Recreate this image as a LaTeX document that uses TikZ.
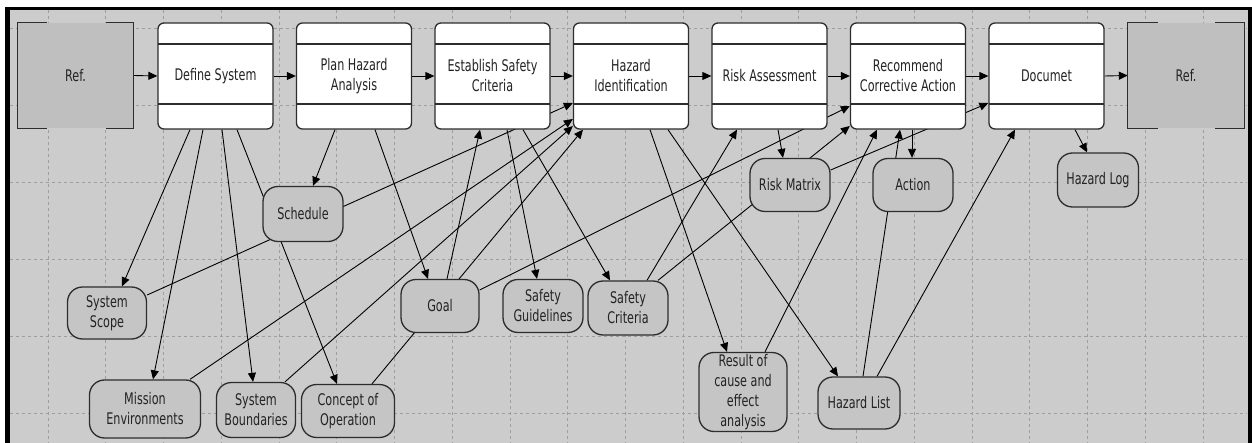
\documentclass[tikz,border=0pt]{standalone}
\usepackage{fontspec}
\newfontfamily\lblfont[FakeStretch=0.7]{DejaVu Sans}
\usetikzlibrary{arrows.meta}
\definecolor{bgc}{RGB}{204,204,204}
\definecolor{reff}{RGB}{191,191,191}
\definecolor{entf}{RGB}{197,197,197}
\definecolor{gridc}{RGB}{158,158,158}
\definecolor{linec}{RGB}{45,45,45}
\definecolor{txtc}{RGB}{35,35,35}
\pgfdeclarelayer{gridlayer}
\pgfdeclarelayer{edgelayer}
\pgfsetlayers{gridlayer,edgelayer,main}
\begin{document}
\begin{tikzpicture}[x=1pt,y=-1pt,
  every node/.style={font=\lblfont\fontsize{16}{20}\selectfont, text=txtc, align=center, inner sep=0pt},
  proc/.style={draw=linec, line width=1.3pt, fill=white, rounded corners=6pt,
    minimum width=115pt, minimum height=106pt,
    path picture={\draw[line width=1.3pt, linec]
      ([yshift=-21pt]path picture bounding box.north west) -- ([yshift=-21pt]path picture bounding box.north east)
      ([yshift=25pt]path picture bounding box.south west) -- ([yshift=25pt]path picture bounding box.south east);}},
  refbox/.style={fill=reff, minimum width=115pt, minimum height=105pt},
  bk/.style={draw=linec, line width=1.3pt},
  ent/.style={draw=linec, line width=1.3pt, fill=entf, rounded corners=15pt},
  ed/.style={draw=black, line width=0.9pt, -{Triangle[length=9pt,width=8pt]}},
  gridline/.style={draw=gridc, line width=0.9pt, dash pattern=on 3pt off 3pt}
]
\useasboundingbox (0,0) rectangle (1252,443);

% nodes
\node[refbox] (r1) at (75.5,75.5) {Ref.};
\node[proc] (ds) at (215.5,76) {Define System};
\node[proc] (pha) at (354,76) {Plan Hazard\\Analysis};
\node[proc] (esc) at (492.5,76) {Establish Safety\\Criteria};
\node[proc] (hi) at (631,76) {Hazard\\Identification};
\node[proc] (ra) at (769.5,76) {Risk Assessment};
\node[proc] (rca) at (908,76) {Recommend\\Corrective Action};
\node[proc] (doc) at (1046.5,76) {Documet};
\node[refbox, minimum width=116pt] (r2) at (1186,75.5) {Ref.};

\draw[bk] ([xshift=29pt]r1.north west) -- (r1.north west) -- (r1.south west) -- ([xshift=29pt]r1.south west);
\draw[bk] ([xshift=-27pt]r1.north east) -- (r1.north east) -- (r1.south east) -- ([xshift=-27pt]r1.south east);
\draw[bk] ([xshift=30pt]r2.north west) -- (r2.north west) -- (r2.south west) -- ([xshift=30pt]r2.south west);
\draw[bk] ([xshift=-29pt]r2.north east) -- (r2.north east) -- (r2.south east) -- ([xshift=-29pt]r2.south east);

\node[ent, minimum width=80pt, minimum height=55pt] (sch) at (303,214) {Schedule};
\node[ent, minimum width=79pt, minimum height=52pt] (scope) at (107,313) {System\\Scope};
\node[ent, minimum width=111pt, minimum height=58pt] (me) at (145,409) {Mission\\Environments};
\node[ent, minimum width=79pt, minimum height=55pt] (sb) at (256,410) {System\\Boundaries};
\node[ent, minimum width=93pt, minimum height=53pt] (coo) at (348,411) {Concept of\\Operation};
\node[ent, minimum width=78pt, minimum height=53pt] (goal) at (440,306) {Goal};
\node[ent, minimum width=80pt, minimum height=53pt] (sg) at (543,306) {Safety\\Guidelines};
\node[ent, minimum width=80pt, minimum height=54pt] (sc) at (628,308) {Safety\\Criteria};
\node[ent, minimum width=88pt, minimum height=79pt] (rcea) at (743,392) {Result of\\cause and\\effect\\analysis};
\node[ent, minimum width=82pt, minimum height=52pt] (hl) at (859,403) {Hazard List};
\node[ent, minimum width=80pt, minimum height=53pt] (rm) at (790,185) {Risk Matrix};
\node[ent, minimum width=80pt, minimum height=53pt] (act) at (913,185) {Action};
\node[ent, minimum width=81pt, minimum height=54pt] (hlog) at (1098,180) {Hazard Log};

% background, grid, frame
\begin{pgfonlayer}{gridlayer}
\fill[white] (0,0) rectangle (1252,443);
\fill[bgc] (5,7) rectangle (1252,443);
\foreach \k in {0,...,20} \draw[gridline] ({48+57.75*\k},10) -- ({48+57.75*\k},443);
\foreach \k in {0,...,5} \draw[gridline] (10,{28+77.1*\k}) -- (1247,{28+77.1*\k});
\fill[black] (5,7) rectangle (1252,10.5);
\fill[black] (5,7) rectangle (10,443);
\fill[black] (1247.5,7) rectangle (1252,443);
\end{pgfonlayer}

% connectors
\begin{pgfonlayer}{edgelayer}
\draw[ed] (r1.east) -- (ds.west);
\draw[ed] (ds.east) -- (pha.west);
\draw[ed] (pha.east) -- (esc.west);
\draw[ed] (esc.east) -- (hi.west);
\draw[ed] (hi.east) -- (ra.west);
\draw[ed] (ra.east) -- (rca.west);
\draw[ed] (rca.east) -- (doc.west);
\draw[ed] (doc.east) -- (r2.west);
\draw[ed] ([xshift=-25.5pt]ds.south) -- ([xshift=15pt]scope.north);
\draw[ed] ([xshift=-12.5pt]ds.south) -- ([xshift=8pt]me.north);
\draw[ed] ([xshift=6.5pt]ds.south) -- ([xshift=-3pt]sb.north);
\draw[ed] ([xshift=21.5pt]ds.south) -- ([xshift=-11pt]coo.north);
\draw[ed] ([xshift=-19pt]pha.south) -- ([xshift=10pt]sch.north);
\draw[ed] ([xshift=21pt]pha.south) -- ([xshift=-12pt]goal.north);
\draw[ed] ([yshift=18pt]scope.east) -- ([yshift=-27pt]hi.west);
\draw[ed] ([xshift=45pt]me.north) -- ([yshift=-43pt]hi.west);
\draw[ed] ([xshift=29pt]sb.north) -- ([yshift=-50pt]hi.west);
\draw[ed] ([xshift=24pt]coo.north) -- ([xshift=-48pt]hi.south);
\draw[ed] ([xshift=7pt]goal.north) -- ([xshift=-12.5pt]esc.south);
\draw[ed] ([yshift=16pt]goal.east) -- ([yshift=-30pt]rca.west);
\draw[ed] ([xshift=14.5pt]esc.south) -- ([xshift=-6pt]sg.north);
\draw[ed] ([xshift=30.5pt]esc.south) -- ([xshift=-18pt]sc.north);
\draw[ed] ([xshift=19pt]hi.south) -- ([xshift=-16pt]rcea.north);
\draw[ed] ([xshift=37pt]hi.south) -- ([xshift=-21pt]hl.north);
\draw[ed] ([xshift=19pt]sc.north) -- ([xshift=-32.5pt]ra.south);
\draw[ed] ([xshift=30pt]sc.north) -- ([yshift=-50pt]rca.west);
\draw[ed] ([xshift=8.5pt]ra.south) -- ([xshift=-7pt]rm.north);
\draw[ed] ([yshift=15pt]rm.east) -- ([yshift=-27pt]doc.west);
\draw[ed] ([xshift=4pt]rca.south) -- ([xshift=-1pt]act.north);
\draw[ed] ([xshift=4pt]hl.north) -- ([xshift=-8pt]rca.south);
\draw[ed] ([xshift=22pt]rcea.north) -- ([xshift=-31pt]rca.south);
\draw[ed] ([xshift=18pt]hl.north) -- ([xshift=-31.5pt]doc.south);
\draw[ed] ([xshift=28.5pt]doc.south) -- ([xshift=-11pt]hlog.north);
\end{pgfonlayer}
\end{tikzpicture}
\end{document}
